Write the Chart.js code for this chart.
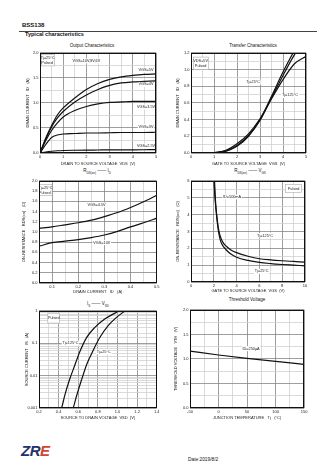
<!DOCTYPE html>
<html lang="en">
<head>
<meta charset="UTF-8">
<title>BSS138 Typical characteristics</title>
<script src="https://cdn.jsdelivr.net/npm/chart.js"></script>
<style>
  body {
    margin: 0;
    width: 336px;
    height: 474px;
    background: #fff;
    font-family: "Liberation Sans", Arial, sans-serif;
    color: #111;
    position: relative;
    overflow: hidden;
  }
  .t { position: absolute; white-space: nowrap; line-height: 1; }
  .part { left: 22px; top: 22px; font-size: 6px; font-weight: bold; }
  .rule { position: absolute; left: 19px; top: 31px; width: 298px; height: 1px; background: #444; }
  .sec { left: 25px; top: 32px; font-size: 5.5px; font-weight: bold; }
  .ct { font-size: 4.5px; transform: translateX(-50%); }
  .ct sub { font-size: 3px; }
  canvas { position: absolute; }
  .logo { left: 21px; top: 443px; font-size: 15px; font-weight: bold; font-style: italic; letter-spacing: -0.5px; color: #22306e; }
  .logo span { color: #d2442f; }
  .date { left: 188px; top: 458px; font-size: 4.8px; }
</style>
</head>
<body>
  <div class="t part">BSS138</div>
  <div class="rule"></div>
  <div class="t sec">Typical characteristics</div>

  <div class="t ct" style="left:92px;top:44px">Output Characteristics</div>
  <div class="t ct" style="left:253px;top:44px">Transfer Characteristics</div>
  <div class="t ct" style="left:97px;top:169px">R<sub>DS(on)</sub> —— I<sub>D</sub></div>
  <div class="t ct" style="left:250px;top:169px">R<sub>DS(on)</sub> —— V<sub>GS</sub></div>
  <div class="t ct" style="left:98px;top:302px">I<sub>S</sub> —— V<sub>SD</sub></div>
  <div class="t ct" style="left:247px;top:298px">Threshold Voltage</div>

  <canvas id="c1"></canvas>
  <canvas id="c2"></canvas>
  <canvas id="c3"></canvas>
  <canvas id="c4"></canvas>
  <canvas id="c5"></canvas>
  <canvas id="c6"></canvas>

  <div class="t logo">ZR<span>E</span></div>
  <div class="t date">Date:2019/8/2</div>

<script>
// output characteristics: ID vs VDS
const outVds = [0, 0.25, 0.5, 0.75, 1, 1.5, 2, 2.5, 3, 3.5, 4, 4.5, 5];
const outId1 = [0, 0.30, 0.55, 0.76, 0.90, 1.10, 1.27, 1.39, 1.47, 1.52, 1.55, 1.57, 1.58];
const outId2 = [0, 0.28, 0.52, 0.70, 0.83, 1.02, 1.16, 1.27, 1.35, 1.40, 1.42, 1.43, 1.44];
const outId3 = [0, 0.25, 0.45, 0.60, 0.72, 0.85, 0.93, 0.98, 1.01, 1.02, 1.03, 1.03, 1.03];
const outId4 = [0, 0.17, 0.31, 0.36, 0.38, 0.39, 0.40, 0.40, 0.405, 0.41, 0.41, 0.41, 0.415];
const outId5 = [0, 0.02, 0.035, 0.045, 0.05, 0.055, 0.058, 0.06, 0.062, 0.063, 0.064, 0.065, 0.066];

// transfer characteristics: ID vs VGS
const trVgs = [0, 0.5, 1, 1.5, 2, 2.5, 3, 3.5, 4, 4.5, 5];
const trIdA = [0, 0, 0.002, 0.02, 0.08, 0.20, 0.40, 0.68, 0.97, 1.23, 1.45];
const trIdB = [0, 0, 0.003, 0.025, 0.09, 0.21, 0.39, 0.66, 0.93, 1.18, 1.38];
const trIdC = [0, 0, 0.005, 0.03, 0.11, 0.23, 0.41, 0.65, 0.88, 1.07, 1.16];

// RDS(on) vs ID
const rdId = [0.05, 0.1, 0.15, 0.2, 0.25, 0.3, 0.35, 0.4, 0.45, 0.5];
const rd45 = [1.07, 1.10, 1.14, 1.18, 1.23, 1.30, 1.38, 1.48, 1.59, 1.72];
const rd10 = [0.72, 0.79, 0.82, 0.85, 0.89, 0.94, 1.01, 1.10, 1.18, 1.27];

// RDS(on) vs VGS
const rgVgsHot = [2.0, 2.1, 2.25, 2.4, 2.55, 2.8, 3.1, 3.5, 4, 5, 6, 7, 8, 9, 10];
const rgHot = [6.2, 5.0, 4.0, 3.2, 2.75, 2.35, 2.12, 1.9, 1.74, 1.53, 1.38, 1.31, 1.26, 1.22, 1.18];
const rgVgsCold = [2.05, 2.15, 2.25, 2.4, 2.55, 2.7, 3.1, 3.5, 4, 5, 6, 7, 8, 9, 10];
const rgCold = [6.2, 4.8, 3.9, 3.05, 2.55, 2.26, 1.9, 1.66, 1.47, 1.28, 1.16, 1.09, 1.04, 1.0, 0.96];

// IS vs VSD (log)
const sdVsdHot = [0.41, 0.43, 0.46, 0.51, 0.565, 0.615, 0.685, 0.77, 0.87, 1.01, 1.06];
const sdIsHot = [0.0008, 0.001, 0.0023, 0.0073, 0.021, 0.054, 0.15, 0.31, 0.56, 1.0, 1.3];
const sdVsdCold = [0.53, 0.548, 0.582, 0.633, 0.691, 0.752, 0.82, 0.905, 0.99, 1.076, 1.12];
const sdIsCold = [0.0008, 0.001, 0.0023, 0.0073, 0.024, 0.06, 0.15, 0.35, 0.63, 1.0, 1.3];

// threshold voltage vs Tj
const thTj = [-50, 0, 50, 100, 150];
const thVth = [1.16, 1.08, 1.01, 0.95, 0.89];

const INK = '#111';
const TXT = '#222';

function pts(xs, ys) {
  return xs.map((x, i) => ({ x: x, y: ys[i] }));
}

function isMajor(v, a) {
  if (a.type === 'logarithmic') {
    const l = Math.log10(v);
    return Math.abs(l - Math.round(l)) < 1e-6;
  }
  const r = v / a.major;
  return Math.abs(r - Math.round(r)) < 1e-6;
}

function axis(a, isX) {
  const ticks = {
    autoSkip: false,
    maxRotation: 0,
    padding: 1.5,
    color: TXT,
    font: { size: 4 },
    callback: v => isMajor(v, a) ? a.fmt(v) : ''
  };
  if (a.minor) ticks.stepSize = a.minor;
  return {
    type: a.type || 'linear',
    min: a.min,
    max: a.max,
    ticks: ticks,
    grid: {
      drawTicks: false,
      lineWidth: 0.8,
      color: c => (c.tick && !isMajor(c.tick.value, a)) ? '#d0d0d0' : '#858585'
    },
    border: { display: false },
    title: { display: true, text: a.title, color: TXT, font: { size: 4 }, padding: 0 },
    afterFit: s => { if (isX) s.height = a.size; else s.width = a.size; }
  };
}

function makeChart(id, spec) {
  const padTop = 3, padRight = 4;
  const [L, T, R, B] = spec.plot;
  const cv = document.getElementById(id);
  cv.width = spec.y.size + (R - L) + padRight;
  cv.height = padTop + (B - T) + spec.x.size;
  cv.style.left = (L - spec.y.size) + 'px';
  cv.style.top = (T - padTop) + 'px';

  const frame = {
    id: 'frame',
    beforeDatasetsDraw(chart) {
      const ctx = chart.ctx, xs = chart.scales.x, ys = chart.scales.y;
      ctx.save();
      (spec.boxes || []).forEach(b => {
        const x0 = xs.getPixelForValue(b[0]), x1 = xs.getPixelForValue(b[2]);
        const y0 = ys.getPixelForValue(b[1]), y1 = ys.getPixelForValue(b[3]);
        ctx.fillStyle = '#fff';
        ctx.fillRect(x0, y1, x1 - x0, y0 - y1);
        ctx.strokeStyle = '#999';
        ctx.lineWidth = 0.5;
        ctx.strokeRect(x0, y1, x1 - x0, y0 - y1);
      });
      ctx.restore();
    },
    afterDatasetsDraw(chart) {
      const ctx = chart.ctx, xs = chart.scales.x, ys = chart.scales.y;
      ctx.save();
      ctx.font = '3.8px "Liberation Sans", Arial, sans-serif';
      ctx.textAlign = 'center';
      ctx.textBaseline = 'middle';
      (spec.notes || []).forEach(n => {
        const px = xs.getPixelForValue(n.x), py = ys.getPixelForValue(n.y);
        if (n.bg) {
          const w = ctx.measureText(n.text).width + 1.5;
          ctx.fillStyle = '#fff';
          ctx.fillRect(px - w / 2, py - 2.5, w, 5);
        }
        ctx.fillStyle = TXT;
        ctx.fillText(n.text, px, py);
      });
      const a = chart.chartArea;
      ctx.strokeStyle = INK;
      ctx.lineWidth = 1;
      ctx.strokeRect(Math.round(a.left) + 0.5, Math.round(a.top) + 0.5,
        Math.round(a.right - a.left) - 1, Math.round(a.bottom - a.top) - 1);
      ctx.restore();
    }
  };

  return new Chart(cv, {
    type: 'line',
    data: {
      datasets: spec.series.map(s => ({
        data: s,
        borderColor: INK,
        borderWidth: 1.2,
        pointRadius: 0,
        fill: false,
        cubicInterpolationMode: 'monotone'
      }))
    },
    options: {
      responsive: false,
      animation: false,
      events: [],
      devicePixelRatio: 1,
      layout: { padding: { top: padTop, right: padRight, left: 0, bottom: 0 } },
      plugins: { legend: { display: false }, tooltip: { enabled: false } },
      scales: { x: axis(spec.x, true), y: axis(spec.y, false) }
    },
    plugins: [frame]
  });
}

makeChart('c1', {
  plot: [40, 52, 156, 153],
  x: { min: 0, max: 5, minor: 0.5, major: 1, size: 13, fmt: v => v.toFixed(0),
       title: 'DRAIN TO SOURCE VOLTAGE  VDS  (V)' },
  y: { min: 0, max: 2, minor: 0.25, major: 0.5, size: 15, fmt: v => v.toFixed(1),
       title: 'DRAIN CURRENT   ID   (A)' },
  series: [pts(outVds, outId1), pts(outVds, outId2), pts(outVds, outId3), pts(outVds, outId4), pts(outVds, outId5)],
  boxes: [[0.05, 1.74, 0.62, 1.97]],
  notes: [
    { x: 0.33, y: 1.9, text: 'Tj=25°C' },
    { x: 0.3, y: 1.8, text: 'Pulsed' },
    { x: 2.0, y: 1.84, text: 'VGS=10V,8V,6V', bg: true },
    { x: 4.57, y: 1.66, text: 'VGS=5V', bg: true },
    { x: 4.57, y: 1.37, text: 'VGS=4V', bg: true },
    { x: 4.57, y: 0.92, text: 'VGS=3.5V', bg: true },
    { x: 4.57, y: 0.53, text: 'VGS=3V', bg: true },
    { x: 4.57, y: 0.14, text: 'VGS=2.5V', bg: true }
  ]
});

makeChart('c2', {
  plot: [191, 52, 306, 153],
  x: { min: 0, max: 5, minor: 0.5, major: 1, size: 13, fmt: v => v.toFixed(0),
       title: 'GATE TO SOURCE VOLTAGE  VGS  (V)' },
  y: { min: 0, max: 1.2, minor: 0.1, major: 0.2, size: 16, fmt: v => v.toFixed(1),
       title: 'DRAIN CURRENT   ID   (A)' },
  series: [pts(trVgs, trIdA), pts(trVgs, trIdB), pts(trVgs, trIdC)],
  boxes: [[0.1, 1.0, 0.75, 1.15]],
  notes: [
    { x: 0.42, y: 1.1, text: 'VDS=5V' },
    { x: 0.42, y: 1.04, text: 'Pulsed' },
    { x: 2.7, y: 0.85, text: 'Tj=25°C', bg: true },
    { x: 4.3, y: 0.69, text: 'Tj=125°C', bg: true }
  ]
});

makeChart('c3', {
  plot: [39, 180, 157, 283],
  x: { min: 0.05, max: 0.5, minor: 0.05, major: 0.1, size: 11, fmt: v => v.toFixed(1),
       title: 'DRAIN CURRENT   ID   (A)' },
  y: { min: 0, max: 2, minor: 0.2, major: 0.2, size: 18, fmt: v => v.toFixed(1),
       title: 'ON-RESISTANCE   RDS(on)   (Ω)' },
  series: [pts(rdId, rd45), pts(rdId, rd10)],
  boxes: [[0.052, 1.71, 0.1, 1.93]],
  notes: [
    { x: 0.075, y: 1.87, text: 'Tj=25°C' },
    { x: 0.072, y: 1.76, text: 'Pulsed' },
    { x: 0.27, y: 1.53, text: 'VGS=4.5V', bg: true },
    { x: 0.29, y: 0.79, text: 'VGS=10V', bg: true }
  ]
});

makeChart('c4', {
  plot: [191, 180, 305, 282],
  x: { min: 0, max: 10, minor: 1, major: 2, size: 11, fmt: v => v.toFixed(0),
       title: 'GATE TO SOURCE VOLTAGE  VGS  (V)' },
  y: { min: 0, max: 6, minor: 0.5, major: 1, size: 16, fmt: v => v.toFixed(0),
       title: 'ON-RESISTANCE   RDS(on)   (Ω)' },
  series: [pts(rgVgsHot, rgHot), pts(rgVgsCold, rgCold)],
  boxes: [[8.3, 5.3, 9.7, 5.8]],
  notes: [
    { x: 9.0, y: 5.55, text: 'Pulsed' },
    { x: 3.6, y: 5.05, text: 'ID=500mA', bg: true },
    { x: 6.5, y: 2.75, text: 'Tj=125°C', bg: true },
    { x: 6.2, y: 0.63, text: 'Tj=25°C', bg: true }
  ]
});

makeChart('c5', {
  plot: [39, 310, 157, 408],
  x: { min: 0.2, max: 1.4, minor: 0.1, major: 0.2, size: 12, fmt: v => v.toFixed(1),
       title: 'SOURCE TO DRAIN VOLTAGE  VSD  (V)' },
  y: { type: 'logarithmic', min: 0.001, max: 1, size: 15, fmt: v => String(+v.toPrecision(1)),
       title: 'SOURCE CURRENT   IS   (A)' },
  series: [pts(sdVsdHot, sdIsHot), pts(sdVsdCold, sdIsCold)],
  boxes: [[0.29, 0.42, 0.41, 0.85]],
  notes: [
    { x: 0.35, y: 0.6, text: 'Pulsed' },
    { x: 0.52, y: 0.1, text: 'Tj=125°C', bg: true },
    { x: 0.86, y: 0.054, text: 'Tj=25°C', bg: true }
  ]
});

makeChart('c6', {
  plot: [190, 309, 305, 408],
  x: { min: -50, max: 150, minor: 25, major: 50, size: 12, fmt: v => v.toFixed(0),
       title: 'JUNCTION TEMPERATURE   Tj   (°C)' },
  y: { min: 0, max: 2, minor: 0.25, major: 0.5, size: 17, fmt: v => v.toFixed(1),
       title: 'THRESHOLD VOLTAGE   VTH   (V)' },
  series: [pts(thTj, thVth)],
  notes: [
    { x: 57, y: 1.21, text: 'ID=250µA', bg: true }
  ]
});
</script>
</body>
</html>
